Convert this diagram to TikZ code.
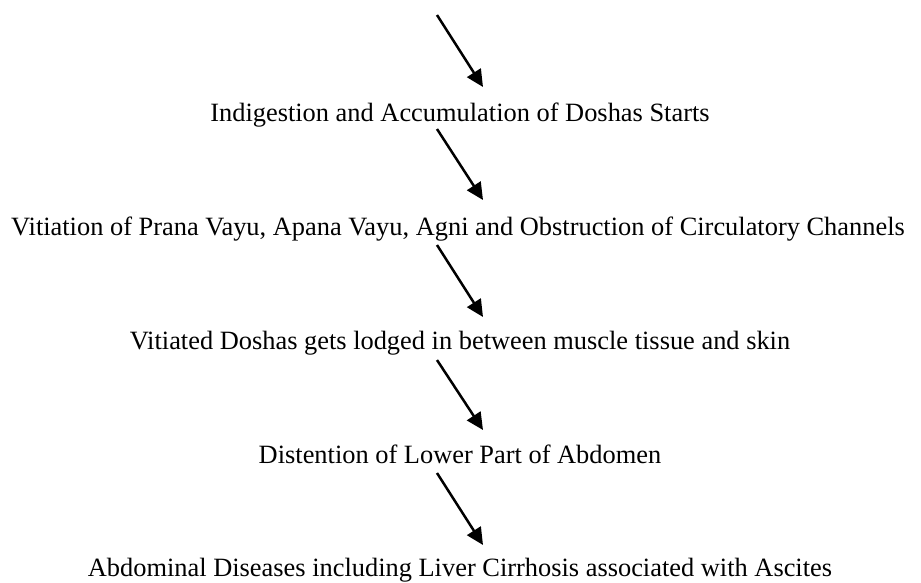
\documentclass[tikz,border=0pt]{standalone}
\usepackage{fontspec}
\setmainfont{Liberation Serif}
\usetikzlibrary{arrows.meta}
\begin{document}
\begin{tikzpicture}[x=1pt,y=-1pt,
  lbl/.style={anchor=base,inner sep=0pt,font=\fontsize{26.4}{31}\selectfont},
  flow/.style={line width=2.5pt,-{Triangle[length=17pt,width=16pt]}}]
\useasboundingbox (0,0) rectangle (921,582);
\node[lbl] (t1) at (460,121) {Indigestion and Accumulation of Doshas Starts};
\node[lbl] (t2) at (458,235) {Vitiation of Prana Vayu, Apana Vayu, Agni and Obstruction of Circulatory Channels};
\node[lbl] (t3) at (460,349) {Vitiated Doshas gets lodged in between muscle tissue and skin};
\node[lbl] (t4) at (460,463) {Distention of Lower Part of Abdomen};
\node[lbl] (t5) at (460,576) {Abdominal Diseases including Liver Cirrhosis associated with Ascites};
\coordinate (s0) at (437,15);  \coordinate (e0) at (483,87);
\coordinate (s1) at (437,129); \coordinate (e1) at (483,200);
\coordinate (s2) at (437,245); \coordinate (e2) at (483,317);
\coordinate (s3) at (437,360); \coordinate (e3) at (483,430);
\coordinate (s4) at (437,473); \coordinate (e4) at (483,545);
\draw[flow] (s0) -- (e0);
\draw[flow] (s1) -- (e1);
\draw[flow] (s2) -- (e2);
\draw[flow] (s3) -- (e3);
\draw[flow] (s4) -- (e4);
\end{tikzpicture}
\end{document}
